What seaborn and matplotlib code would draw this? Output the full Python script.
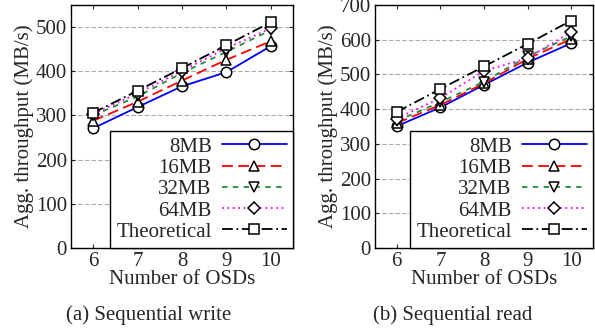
import numpy as np
import matplotlib
matplotlib.use("Agg")
import matplotlib.pyplot as plt
import seaborn as sns
import pandas as pd

osds = [6, 7, 8, 9, 10]
series_names = ["8MB", "16MB", "32MB", "64MB", "Theoretical"]

write_8mb = [271, 319, 366, 398, 457]
write_16mb = [288, 331, 379, 426, 468]
write_32mb = [300, 343, 396, 444, 493]
write_64mb = [303, 350, 401, 452, 497]
write_theo = [306, 356, 407, 459, 511]

read_8mb = [351, 405, 470, 534, 590]
read_16mb = [360, 412, 474, 545, 602]
read_32mb = [366, 420, 479, 552, 610]
read_64mb = [373, 432, 510, 547, 622]
read_theo = [392, 458, 523, 588, 655]

colors = ["#0000ff", "#ff0000", "#228b3c", "#ff00ff", "#000000"]
dashes = ["-", (0, (6, 3)), (0, (3, 3)), (0, (1, 2)), (0, (6, 2, 1, 2))]
markers = ["o", "^", "v", "D", "s"]
msizes = [7.5, 7.5, 7.5, 6, 7.5]

FS = 15

sns.set_style("ticks")
plt.rcParams["font.family"] = ["Liberation Serif", "DejaVu Serif"]
plt.rcParams["font.size"] = FS


def draw(ax, values, ymax, yticks):
    df = pd.DataFrame({"osd": osds * len(values),
                       "val": sum(values, []),
                       "series": np.repeat(series_names, len(osds))})
    for i, name in enumerate(series_names):
        sub = df[df["series"] == name]
        sns.lineplot(data=sub, x="osd", y="val", ax=ax, color=colors[i],
                     linestyle=dashes[i], linewidth=1.3, marker=markers[i],
                     markersize=msizes[i], markerfacecolor="white",
                     markeredgecolor="black", markeredgewidth=1.1,
                     label=name)
    ax.set_xlim(5.5, 10.5)
    ax.set_ylim(0, ymax)
    ax.set_xticks(osds)
    ax.set_yticks(yticks)
    ax.yaxis.grid(True, linestyle=(0, (4, 2)), color="#aaaaaa", linewidth=0.8)
    ax.set_axisbelow(True)
    ax.tick_params(direction="in", top=True, right=True, length=3,
                   labelsize=FS, pad=3)
    for s in ax.spines.values():
        s.set_color("black")
        s.set_linewidth(1.0)
    ax.set_xlabel("Number of OSDs", fontsize=FS, labelpad=-1)
    ax.set_ylabel("Agg. throughput (MB/s)", fontsize=FS, labelpad=1)
    leg = ax.legend(loc="lower right", borderaxespad=0, markerfirst=False,
                    handlelength=3.1, fontsize=FS, labelspacing=0.08,
                    handletextpad=0.5, borderpad=0.3, fancybox=False,
                    framealpha=1, edgecolor="black")
    leg.get_frame().set_linewidth(1.0)


fig = plt.figure(figsize=(5.95, 3.34), dpi=100)
ax1 = fig.add_axes([71 / 595, 1 - 248 / 334, 222 / 595, 243 / 334])
ax2 = fig.add_axes([375 / 595, 1 - 248 / 334, 218 / 595, 243 / 334])

draw(ax1, [write_8mb, write_16mb, write_32mb, write_64mb, write_theo],
     550, [0, 100, 200, 300, 400, 500])
draw(ax2, [read_8mb, read_16mb, read_32mb, read_64mb, read_theo],
     700, [0, 100, 200, 300, 400, 500, 600, 700])

fig.text(149 / 595, 1 - 315 / 334, "(a) Sequential write", ha="center",
         va="center", fontsize=FS)
fig.text(453 / 595, 1 - 315 / 334, "(b) Sequential read", ha="center",
         va="center", fontsize=FS)

fig.savefig("out.png", dpi=100)
plt.close()
